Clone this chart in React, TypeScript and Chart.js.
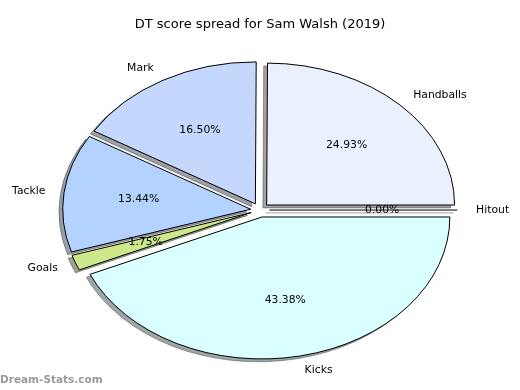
import React, { useEffect, useRef } from "react";
import { Chart, registerables } from "chart.js";

Chart.register(...registerables);

// ---- data (matplotlib order: counter-clockwise from 3 o'clock) ----
const categories = ["Handballs", "Mark", "Tackle", "Goals", "Kicks", "Hitout"];
const shares = [24.93, 16.5, 13.44, 1.75, 43.38, 0.0];
const sliceColors = ["#eaf1fe", "#c4d8fe", "#b3d3fe", "#cce88a", "#d9ffff", "#f0f0f0"];
const chartTitle = "DT score spread for Sam Walsh (2019)";
const watermark = "Dream-Stats.com";

// ---- styling constants ----
const ASPECT_X = 188 / 142; // horizontal stretch of the pie (non-equal axes)
const EXPLODE = 0.05;
const SHADOW_DX = -0.02;
const SHADOW_DY = 0.02;
const BORDER_W = 1;
const FONT = "'DejaVu Sans', 'Liberation Sans', sans-serif";

function shadowColor(hex: string): string {
  const h = hex.replace("#", "");
  const r = parseInt(h.slice(0, 2), 16);
  const g = parseInt(h.slice(2, 4), 16);
  const b = parseInt(h.slice(4, 6), 16);
  return `rgba(${Math.round(r * 0.3)},${Math.round(g * 0.3)},${Math.round(b * 0.3)},0.5)`;
}

const mplPiePlugin = {
  id: "mplPie",
  beforeDatasetsDraw(chart: any) {
    const ctx: CanvasRenderingContext2D = chart.ctx;
    const meta = chart.getDatasetMeta(0);
    const arcs: any[] = meta.data;
    if (!arcs.length) return false;
    const colors: string[] = chart.data.datasets[0].backgroundColor;
    const cx = arcs[0].x;
    const cy = arcs[0].y;
    const R = arcs[0].outerRadius;
    const base = ctx.getTransform();
    ctx.save();
    ctx.translate(cx, cy);
    ctx.scale(ASPECT_X, 1);
    ctx.translate(-cx, -cy);
    const origStroke = ctx.stroke;
    (ctx as any).stroke = function (...args: any[]) {
      ctx.save();
      ctx.setTransform(base);
      (origStroke as any).apply(ctx, args);
      ctx.restore();
    };
    const order = arcs.map((_, i) => i).reverse();
    const drawPass = (shadow: boolean) => {
      for (const i of order) {
        const el = arcs[i];
        const mid = (el.startAngle + el.endAngle) / 2;
        let tx = EXPLODE * R * Math.cos(mid);
        let ty = EXPLODE * R * Math.sin(mid);
        if (shadow) {
          tx += SHADOW_DX * R;
          ty += SHADOW_DY * R;
        }
        ctx.save();
        ctx.translate(tx, ty);
        if (el.circumference > 0) {
          const saved = el.options;
          if (shadow) {
            const sc = shadowColor(colors[i]);
            el.options = { ...saved, backgroundColor: sc, borderColor: sc };
          }
          el.draw(ctx);
          el.options = saved;
        } else {
          ctx.beginPath();
          ctx.moveTo(cx, cy);
          ctx.lineTo(cx + R * Math.cos(el.startAngle), cy + R * Math.sin(el.startAngle));
          ctx.lineWidth = BORDER_W;
          ctx.strokeStyle = shadow ? shadowColor(colors[i]) : "#000000";
          ctx.stroke();
        }
        ctx.restore();
      }
    };
    drawPass(true);
    drawPass(false);
    delete (ctx as any).stroke;
    ctx.restore();
    return false;
  },
  afterDraw(chart: any) {
    const ctx: CanvasRenderingContext2D = chart.ctx;
    const meta = chart.getDatasetMeta(0);
    const arcs: any[] = meta.data;
    const values: number[] = chart.data.datasets[0].data;
    const labels: string[] = chart.data.labels;
    const total = values.reduce((a, b) => a + b, 0);
    ctx.save();
    ctx.fillStyle = "#000000";
    ctx.font = `10.8px ${FONT}`;
    ctx.textBaseline = "middle";
    arcs.forEach((el, i) => {
      const mid = (el.startAngle + el.endAngle) / 2;
      const R = el.outerRadius;
      const c = Math.cos(mid);
      const s = Math.sin(mid);
      const lx = el.x + ASPECT_X * R * (EXPLODE + 1.1) * c;
      const ly = el.y + R * (EXPLODE + 1.1) * s;
      ctx.textAlign = c > 0 ? "left" : "right";
      ctx.fillText(labels[i], lx, ly);
      const px = el.x + ASPECT_X * R * (EXPLODE + 0.6) * c;
      const py = el.y + R * (EXPLODE + 0.6) * s;
      ctx.textAlign = "center";
      ctx.fillText(((values[i] / total) * 100).toFixed(2) + "%", px, py);
    });
    ctx.fillStyle = "#9a9a9a";
    ctx.font = `bold 10.5px ${FONT}`;
    ctx.textAlign = "left";
    ctx.fillText(watermark, 0, 380);
    ctx.restore();
  },
};

export default function App() {
  const canvasRef = useRef<HTMLCanvasElement | null>(null);
  useEffect(() => {
    document.body.style.margin = "0";
    if (!canvasRef.current) return;
    const labels = [...categories].reverse();
    const data = [...shares].reverse();
    const colors = [...sliceColors].reverse();
    const chart = new Chart(canvasRef.current, {
      type: "pie",
      data: {
        labels,
        datasets: [
          {
            data,
            backgroundColor: colors,
            borderColor: "#000000",
            borderWidth: BORDER_W,
            hoverBorderWidth: BORDER_W,
            borderJoinStyle: "miter",
            offset: 0,
            hoverOffset: 0,
          } as any,
        ],
      },
      options: {
        responsive: false,
        animation: false,
        events: [],
        rotation: 90,
        layout: { padding: { left: 60, right: 60, top: 0, bottom: 37.5 } },
        plugins: {
          legend: { display: false },
          tooltip: { enabled: false },
          title: {
            display: true,
            text: chartTitle,
            color: "#000000",
            font: { family: FONT, size: 13, weight: "normal" },
            padding: { top: 17, bottom: 35 },
          },
        },
      },
      plugins: [mplPiePlugin as any],
    });
    return () => chart.destroy();
  }, []);
  return (
    <div style={{ width: 520, height: 390, background: "#ffffff" }}>
      <canvas ref={canvasRef} width={520} height={390} style={{ display: "block" }} />
    </div>
  );
}
